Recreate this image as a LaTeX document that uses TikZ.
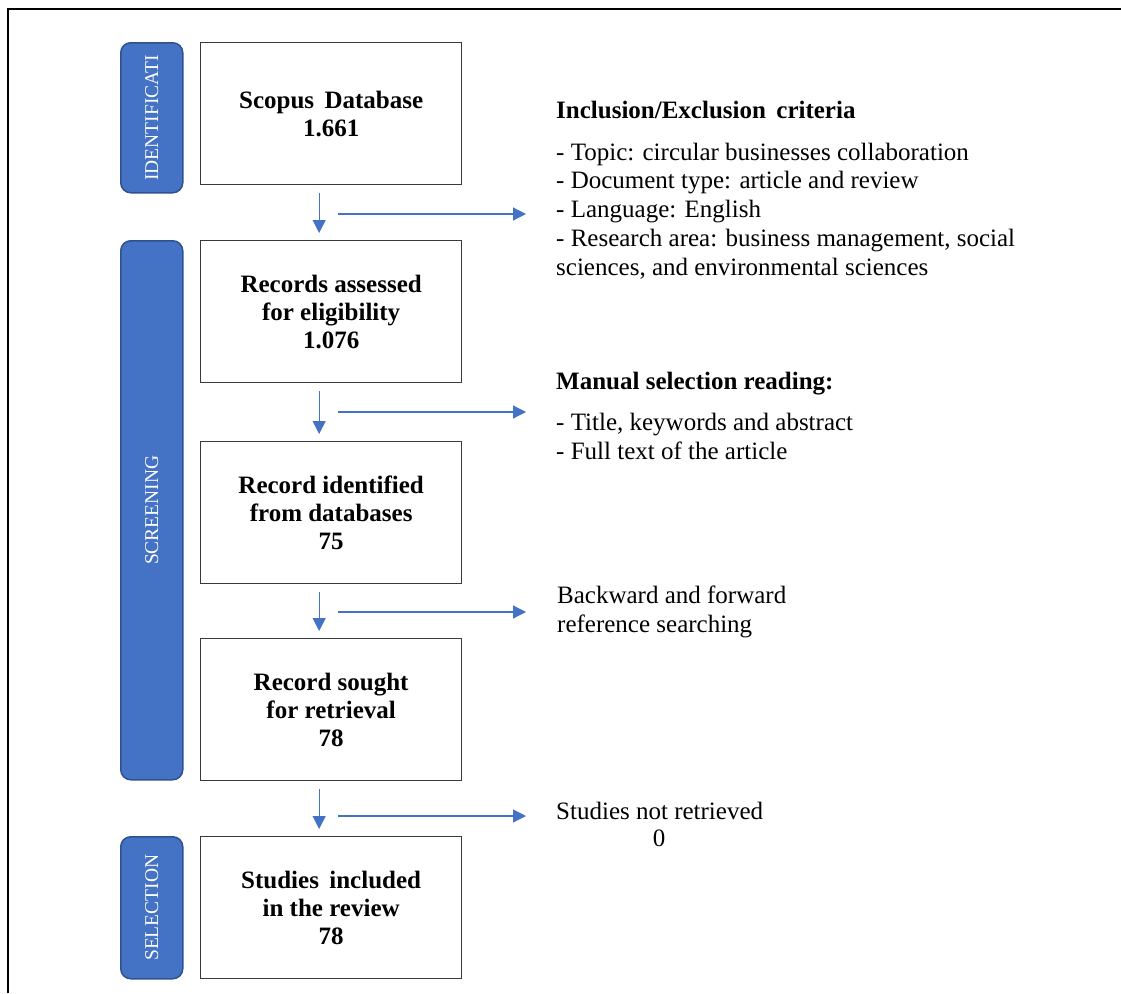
\documentclass[tikz,border=0pt]{standalone}
\usepackage{fontspec}
\setmainfont{Liberation Serif}
\usetikzlibrary{arrows.meta}
\definecolor{barblue}{HTML}{4472C4}
\definecolor{baredge}{HTML}{2F528F}
\definecolor{boxedge}{HTML}{3A3A3A}
\begin{document}
\begin{tikzpicture}[x=1pt,y=-1pt,
  stagebox/.style={draw=boxedge,line width=1.3pt,minimum width=261pt,minimum height=142pt,
    anchor=north west,align=center,inner sep=0pt,font=\fontsize{25}{28}\selectfont\bfseries},
  phasebar/.style={draw=baredge,fill=barblue,line width=1.5pt,rounded corners=10pt,
    anchor=north west,minimum width=62pt,inner sep=0pt},
  phaselabel/.style={text=white,rotate=90,inner sep=0pt,font=\fontsize{19.5}{20}\selectfont},
  flow/.style={draw=barblue,line width=1.2pt,-{Triangle[length=13pt,width=13pt]}},
  note/.style={anchor=base west,align=left,inner sep=0pt,font=\fontsize{25}{28.75}\selectfont},
  notehead/.style={anchor=base west,inner sep=0pt,font=\fontsize{25}{28.75}\selectfont\bfseries}]
\useasboundingbox (0,0) rectangle (1121,993);

% outer frame (open at right and bottom)
\draw[line width=1.6pt,black] (8,993) -- (8,9) -- (1121,9);

% phase bars
\node[phasebar,minimum height=150pt] (idbar) at (120,42) {};
\node[phasebar,minimum height=539pt] (scbar) at (120,240) {};
\node[phasebar,minimum height=142pt] (selbar) at (120,836) {};
\node[phaselabel] (idlab) at (idbar.center) {IDENTIFICATI};
\node[phaselabel] (sclab) at (scbar.center) {SCREENING};
\node[phaselabel] (sellab) at (selbar.center) {SELECTION};

% main stages
\node[stagebox] (b1) at (200,42) {Scopus\ \,Database\\1.661};
\node[stagebox] (b2) at (200,240) {Records assessed\\for eligibility\\1.076};
\node[stagebox] (b3) at (200,441) {Record identified\\from databases\\75};
\node[stagebox] (b4) at (200,638) {Record sought\\for retrieval\\78};
\node[stagebox] (b5) at (200,836) {Studies\ \,included\\in the review\\78};

% vertical flow between stages
\foreach \a/\b in {b1/b2,b2/b3,b3/b4,b4/b5}
  \draw[flow] ([xshift=-12pt,yshift=-8pt]\a.south) -- ([xshift=-12pt,yshift=7pt]\b.north);

% side branches
\coordinate (s1) at (338,214);  \coordinate (t1) at (526,214);
\coordinate (s2) at (338,412);  \coordinate (t2) at (526,412);
\coordinate (s3) at (338,612);  \coordinate (t3) at (526,612);
\coordinate (s4) at (338,816);  \coordinate (t4) at (526,816);
\foreach \i in {1,2,3,4}
  \draw[flow] (s\i) -- (t\i);

% notes (multi-line notes are placed by the baseline of their last line)
\node[notehead] (crit) at (556,118) {Inclusion/Exclusion\ \,criteria};
\node[note] (critlist) at (556,275) {- Topic: circular businesses collaboration\\
  - Document type: article and review\\
  - Language: English\\
  - Research area: business management, social\\
  sciences, and environmental sciences};
\node[notehead] (manual) at (556,389) {Manual selection reading:};
\node[note] (manuallist) at (556,459) {- Title, keywords and abstract\\- Full text of the article};
\node[note] (backward) at (557,632) {Backward and forward\\reference searching};
\node[note] (notretr) at (556,819) {Studies not retrieved};
\node[anchor=base,inner sep=0pt,font=\fontsize{25}{28.75}\selectfont] (zero) at (659,846) {0};
\end{tikzpicture}
\end{document}
